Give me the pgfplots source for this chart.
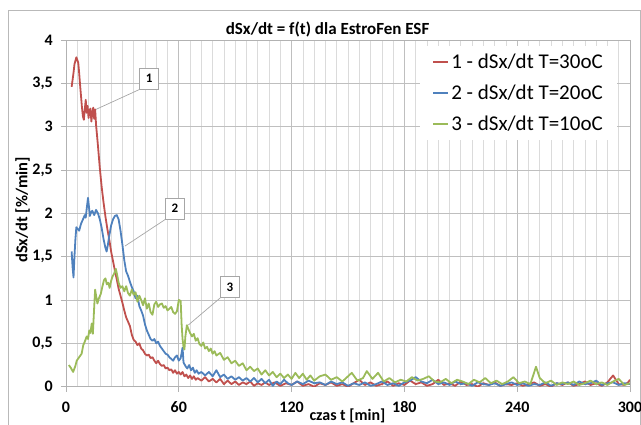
\documentclass[border=0pt]{standalone}
\usepackage{fontspec}
\setmainfont{Carlito}
\usepackage{pgfplots}
\pgfplotsset{compat=1.18}
\definecolor{cRed}{HTML}{C0504D}
\definecolor{cBlue}{HTML}{4F81BD}
\definecolor{cGreen}{HTML}{9BBB59}
\begin{document}
\begin{tikzpicture}
\useasboundingbox (-66pt,-37.3pt) rectangle (575pt,386.7pt);
\draw[gray!55, line width=0.8pt] (-58pt,-45pt) -- (-58pt,376.7pt) -- (574pt,376.7pt) -- (574pt,-45pt);
\begin{axis}[
  scale only axis, width=564pt, height=346.7pt,
  xmin=0, xmax=300, ymin=0, ymax=4,
  xtick={0,60,120,180,240,300},
  ytick={0,0.5,1,1.5,2,2.5,3,3.5,4},
  minor x tick num=9,
  grid=both,
  major grid style={gray!50, line width=0.6pt},
  minor grid style={gray!28, line width=0.6pt},
  axis line style={gray!60, line width=0.8pt},
  tick align=outside, major tick length=5pt, minor tick length=0pt,
  tick pos=left,
  tick style={gray!60, line width=0.6pt},
  /pgf/number format/.cd, use comma, assume math mode=true, 1000 sep={},
  /pgfplots/.cd,
  ticklabel style={font=\bfseries\fontsize{16}{18}\selectfont, inner sep=0pt},
  xticklabel shift=10pt,
  yticklabel shift=8pt,
  title={dSx/dt = f(t) dla EstroFen ESF},
  title style={at={(axis description cs:0.4637,1)}, anchor=base, yshift=0pt, font=\bfseries\fontsize{17}{20}\selectfont, inner sep=0pt},
  xlabel={czas t [min]},
  xlabel style={at={(axis description cs:0.499,-0.0851)}, anchor=center, font=\bfseries\fontsize{16}{18}\selectfont, inner sep=0pt},
  ylabel={dSx/dt [\%/min]},
  ylabel style={at={(axis description cs:-0.0771,0.51)}, anchor=center, font=\bfseries\fontsize{16.5}{18}\selectfont, inner sep=0pt},
  legend style={at={(axis description cs:0.977,0.984)}, anchor=north east, draw=none, fill=white,
    font=\fontsize{21}{24}\selectfont, inner xsep=12pt, inner ysep=6pt, row sep=11pt,
    /tikz/every odd column/.style={column sep=0pt}},
  legend cell align=left,
  legend image code/.code={\draw[#1, line width=2pt] (0pt,0pt) -- (15pt,0pt);},
]
\addplot[cRed, line width=1.8pt, line join=round] coordinates {
(3,3.46)(4,3.62)(4.5,3.72)(5.5,3.80)(6.5,3.74)(7,3.62)(7.5,3.48)(8,3.35)(8.5,3.22)(9,3.12)(9.5,3.08)(10,3.20)(10.5,3.31)(11,3.16)(11.5,3.24)(12,3.10)(12.5,3.18)(13,3.21)(13.5,3.06)(14,3.16)(14.5,3.22)(15,3.09)(15.5,3.20)(16,3.02)(17,2.78)(18,2.52)(19,2.30)(20,2.12)(21,1.96)(22,1.82)(23,1.70)(24,1.56)(25,1.45)(26,1.34)(27,1.24)(28,1.13)(29,1.05)(30,0.97)(31,0.88)(32,0.80)(33,0.75)(34,0.70)(35,0.60)(36,0.54)(37,0.52)(38,0.48)(39,0.50)(40,0.44)(41,0.42)(42,0.38)(43,0.36)(44,0.37)(45,0.33)(46,0.34)(47,0.30)(48,0.27)(49,0.30)(50,0.26)(51,0.24)(52,0.25)(53,0.21)(54,0.22)(55,0.19)(56,0.20)(57,0.16)(58,0.19)(59,0.15)(60,0.17)(61,0.14)(62,0.17)(63,0.12)(64,0.14)(65,0.10)(66,0.13)(67,0.09)(68,0.12)(69,0.08)(70,0.10)(72,0.07)(74,0.11)(76,0.06)(78,0.09)(80,0.05)(82,0.09)(84,0.03)(86,0.07)(88,0.03)(90,0.06)(92,0.02)(94,0.05)(96,0.03)(98,0.06)(100,0.01)(102,0.04)(104,0.02)(106,0.05)
(108,0.02)(111,0.05)(114,0.01)(117,0.04)(120,0.02)(123,0.06)(126,0.01)(129,0.03)(132,0.00)(135,0.04)(138,0.02)(141,0.05)(144,0.01)(147,0.03)(150,0.00)(153,0.04)(156,0.08)(159,0.02)(162,0.05)(165,0.01)(168,0.03)(171,0.06)(174,0.01)(177,0.04)(180,0.02)(183,0.07)(186,0.03)(189,0.05)(192,0.01)(195,0.03)(198,0.08)(201,0.02)(204,0.04)(207,0.01)(210,0.06)(213,0.02)(216,0.03)(219,0.00)(222,0.04)(225,0.02)(228,0.05)(231,0.01)(234,0.03)(237,0.02)(240,0.04)(243,0.01)(246,0.03)(249,0.05)(252,0.01)(255,0.03)(258,0.00)(261,0.04)(264,0.02)(267,0.05)(270,0.01)(273,0.03)(276,0.06)(279,0.02)(282,0.04)(285,0.01)(288,0.05)(291,0.13)(294,0.03)(297,0.02)(299,0.05)(300,0.08)
};
\addlegendentry{1 - dSx/dt T=30oC}
\addplot[cBlue, line width=1.8pt, line join=round] coordinates {
(3,1.56)(3.5,1.38)(4,1.26)(4.5,1.50)(5,1.70)(5.5,1.84)(6.2,1.82)(7,1.80)(8,1.88)(9,1.93)(10,1.98)(10.5,1.95)(11,2.05)(11.7,2.18)(12.2,2.08)(12.7,1.97)(13.3,2.01)(14,2.03)(15,1.98)(16,2.04)(17,2.00)(18,1.93)(19,1.83)(20,1.70)(21,1.60)(21.6,1.56)(22.3,1.64)(23,1.74)(24,1.86)(25,1.93)(26,1.97)(27,1.98)(28,1.93)(29,1.80)(30,1.64)(31,1.46)(32,1.33)(33,1.28)(34,1.21)(35,1.15)(36,1.10)(37,1.02)(38,1.05)(39,0.93)(40,0.88)(41,0.82)(42,0.72)(43,0.65)(44,0.60)(45,0.55)(46,0.53)(47,0.55)(48,0.50)(49,0.52)(50,0.47)(51,0.44)(52,0.41)(53,0.38)(54,0.37)(55,0.34)(56,0.32)(57,0.30)(58,0.34)(59,0.36)(60,0.30)(61,0.33)(62,0.45)(62.5,0.28)(63.5,0.24)(64.5,0.21)(65.5,0.25)(66.5,0.19)(67.5,0.22)(68.5,0.16)(69.5,0.19)(70.5,0.15)(72,0.17)(74,0.13)(76,0.17)(78,0.12)(80,0.19)(82,0.11)(84,0.14)(86,0.09)(88,0.12)(90,0.08)(92,0.11)(94,0.07)(96,0.10)(98,0.06)(100,0.10)(102,0.05)(104,0.09)(106,0.04)(108,0.08)(110,0.01)(112,0.06)(114,0.03)(116,0.08)(118,0.04)
(120,0.02)(123,0.06)(126,0.03)(129,0.07)(132,0.04)(135,0.05)(138,0.02)(141,0.06)(144,0.03)(147,0.05)(150,0.01)(153,0.04)(156,0.02)(159,0.05)(162,0.01)(165,0.03)(168,0.06)(171,0.02)(174,0.04)(177,0.01)(180,0.05)(183,0.07)(186,0.11)(189,0.06)(192,0.04)(195,0.08)(198,0.03)(201,0.05)(204,0.02)(207,0.06)(210,0.03)(213,0.04)(216,0.01)(219,0.05)(222,0.03)(225,0.02)(228,0.04)(231,0.01)(234,0.03)(237,0.05)(240,0.02)(243,0.04)(246,0.01)(249,0.03)(252,0.02)(255,0.05)(258,0.01)(261,0.04)(264,0.03)(267,0.05)(270,0.02)(273,0.06)(276,0.03)(279,0.04)(282,0.07)(285,0.02)(288,0.04)(291,0.05)(294,0.02)(297,0.04)(300,0.03)
};
\addlegendentry{2 - dSx/dt T=20oC}
\addplot[cGreen, line width=1.8pt, line join=round] coordinates {
(1.5,0.25)(2.5,0.22)(3.8,0.17)(5,0.24)(5.7,0.30)(7,0.34)(8.3,0.38)(9.2,0.48)(10,0.52)(11,0.58)(11.7,0.55)(12.4,0.65)(13,0.62)(13.7,0.73)(14.3,0.61)(15,0.92)(15.5,1.12)(16,1.05)(16.7,0.96)(17.5,1.02)(18.5,1.07)(19.3,1.15)(20.2,1.23)(21,1.25)(21.7,1.18)(22.5,1.20)(23.2,1.14)(24,1.22)(24.7,1.27)(25.5,1.30)(26.5,1.36)(27.2,1.29)(28,1.20)(29,1.14)(30,1.16)(31,1.10)(32,1.16)(33,1.08)(34,1.05)(35,1.12)(36,1.06)(37,1.09)(38,0.98)(39,1.05)(40,1.00)(41,0.94)(42,1.02)(43,0.90)(44,0.96)(45,0.86)(46,0.83)(47,0.95)(48,0.98)(49,0.92)(50,0.95)(51,0.96)(52,0.91)(53,0.93)(54,0.88)(55,0.90)(56,0.92)(57,0.86)(58,0.84)(59,0.87)(60,1.00)(61,0.99)(61.5,0.72)(62,0.55)(62.5,0.46)(63,0.43)(63.5,0.58)(64.3,0.71)(65,0.67)(66,0.62)(67,0.58)(68,0.61)(69,0.53)(70,0.56)(71,0.49)(72,0.47)(73,0.51)(74,0.44)(75,0.46)(76,0.41)(77,0.44)(78,0.38)(79,0.41)(80,0.36)(82,0.39)(84,0.31)(86,0.34)(88,0.27)(90,0.30)(92,0.24)(94,0.27)(96,0.19)(98,0.23)(100,0.18)(102,0.21)(104,0.14)(106,0.19)(108,0.13)(110,0.17)(112,0.11)(114,0.15)(116,0.10)(118,0.14)
(120,0.09)(122,0.16)(124,0.10)(126,0.15)(128,0.08)(130,0.13)(132,0.07)(135,0.12)(138,0.14)(141,0.08)(144,0.11)(147,0.06)(150,0.12)(152,0.16)(155,0.07)(158,0.10)(160,0.18)(163,0.09)(166,0.16)(169,0.06)(172,0.10)(175,0.05)(178,0.08)(181,0.06)(184,0.11)(187,0.07)(190,0.09)(193,0.12)(196,0.06)(199,0.05)(202,0.09)(205,0.04)(208,0.08)(211,0.06)(214,0.03)(217,0.08)(220,0.05)(223,0.10)(226,0.04)(229,0.07)(232,0.03)(235,0.06)(238,0.11)(241,0.04)(244,0.06)(247,0.03)(250,0.23)(252,0.10)(255,0.04)(258,0.07)(261,0.02)(264,0.05)(267,0.03)(270,0.06)(273,0.02)(276,0.04)(279,0.07)(282,0.03)(285,0.05)(288,0.02)(291,0.06)(294,0.09)(297,0.02)(300,0.04)
};
\addlegendentry{3 - dSx/dt T=10oC}
\node[draw=gray!70, fill=white, line width=0.7pt, font=\bfseries\fontsize{13}{14}\selectfont, minimum width=19pt, minimum height=21pt, inner sep=0pt] (b1) at (axis cs:44.2,3.553) {1};
\draw[gray!70, line width=0.7pt] (axis cs:16,3.2) -- (b1.south west);
\node[draw=gray!70, fill=white, line width=0.7pt, font=\bfseries\fontsize{13}{14}\selectfont, minimum width=19pt, minimum height=21pt, inner sep=0pt] (b2) at (axis cs:58.0,2.054) {2};
\draw[gray!70, line width=0.7pt] (axis cs:31.4,1.623) -- (b2.south west);
\node[draw=gray!70, fill=white, line width=0.7pt, font=\bfseries\fontsize{13}{14}\selectfont, minimum width=19pt, minimum height=21pt, inner sep=0pt] (b3) at (axis cs:87.2,1.148) {3};
\draw[gray!70, line width=0.7pt] (axis cs:65.1,0.712) -- (b3.south west);
\end{axis}
\end{tikzpicture}
\end{document}
